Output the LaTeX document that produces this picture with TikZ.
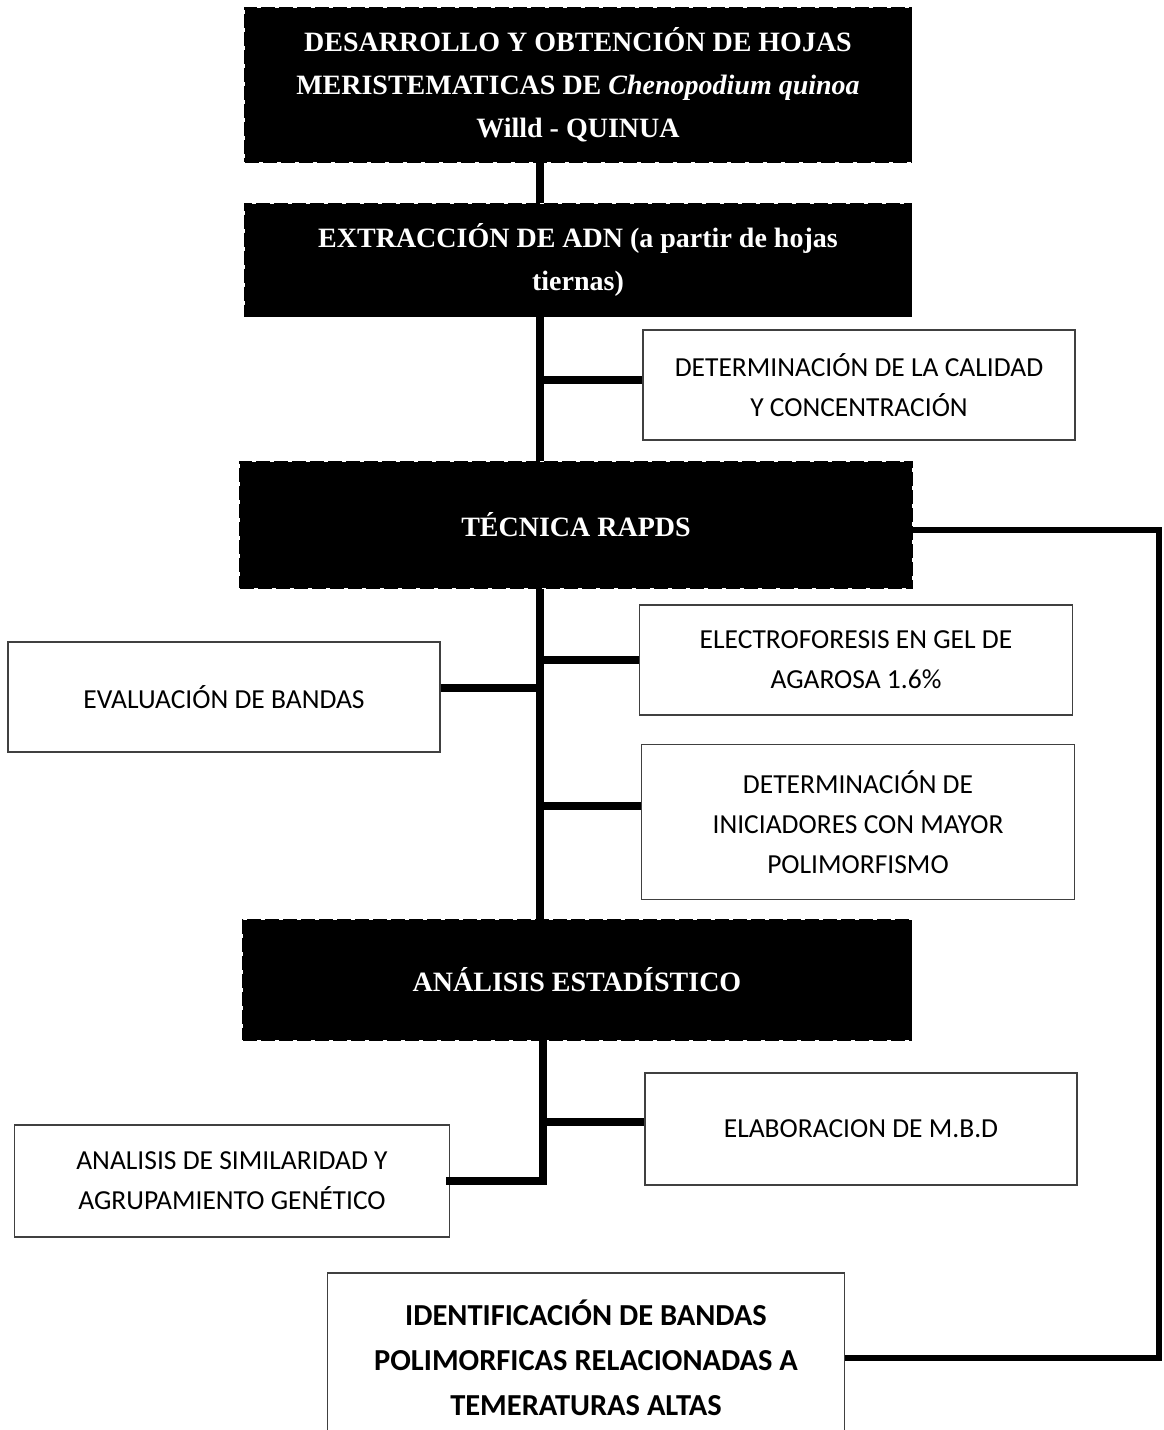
\documentclass[tikz,border=0pt]{standalone}
\usepackage{fontspec}
\setmainfont{Liberation Serif}
\newfontfamily\calibri{Carlito}
\usetikzlibrary{positioning, calc}

\tikzset{
  blackbox/.style={fill=black, draw=black, line width=1.5pt, dash pattern=on 14pt off 4pt,
    text=white, align=center, inner sep=0pt, font=\fontsize{28}{43}\selectfont\bfseries},
  whitebox/.style={fill=white, draw=black!75, line width=1.2pt, align=center, inner sep=0pt,
    font=\calibri\fontsize{27.5}{40}\selectfont},
  link/.style={line width=7.5pt, line cap=rect}
}

\begin{document}
\begin{tikzpicture}[x=1pt, y=-1pt]
        \useasboundingbox (0,0) rectangle (1164,1430);

        \node[blackbox, minimum width=667, minimum height=154] (desarrollo) at (578,85)
          {DESARROLLO Y OBTENCIÓN DE HOJAS\\MERISTEMATICAS DE \textit{Chenopodium quinoa}\\Willd - QUINUA};
        \node[blackbox, minimum width=667, minimum height=113] (extraccion) at (578,260)
          {EXTRACCIÓN DE ADN (a partir de hojas\\tiernas)};
        \node[whitebox, minimum width=432, minimum height=110] (calidad) at (859,385)
          {DETERMINACIÓN DE LA CALIDAD\\Y CONCENTRACIÓN};
        \node[blackbox, minimum width=672, minimum height=126] (rapds) at (576,525)
          {TÉCNICA RAPDS};
        \node[whitebox, minimum width=433, minimum height=110] (electro) at (856,660)
          {ELECTROFORESIS EN GEL DE\\AGAROSA 1.6\%};
        \node[whitebox, minimum width=432, minimum height=110] (evaluacion) at (224,697)
          {EVALUACIÓN DE BANDAS};
        \node[whitebox, minimum width=433, minimum height=155] (iniciadores) at (858,822)
          {DETERMINACIÓN DE\\INICIADORES CON MAYOR\\POLIMORFISMO};
        \node[blackbox, minimum width=669, minimum height=120] (estadistico) at (577,980)
          {ANÁLISIS ESTADÍSTICO};
        \node[whitebox, minimum width=432, minimum height=112] (mbd) at (861,1129)
          {ELABORACION DE M.B.D};
        \node[whitebox, minimum width=435, minimum height=112] (similaridad) at (232,1181)
          {ANALISIS DE SIMILARIDAD Y\\AGRUPAMIENTO GENÉTICO};
        \node[whitebox, minimum width=517, minimum height=170, text depth=0pt,
          font=\calibri\fontsize{30.5}{45}\selectfont\bfseries] (identificacion) at (586,1358)
          {IDENTIFICACIÓN DE BANDAS\\POLIMORFICAS RELACIONADAS A\\TEMERATURAS ALTAS};

        \coordinate (trunk) at (540,0);
        \coordinate (trunkb) at (543,0);
        \coordinate (edge) at (1159,0);

        \draw[link, line cap=butt] (desarrollo.south -| trunk) -- (extraccion.north -| trunk);
        \draw[link, line cap=butt] (extraccion.south -| trunk) -- (rapds.north -| trunk);
        \draw[link, line cap=butt] ([yshift=5pt]calidad.west) -- ([yshift=5pt]calidad.west -| trunk);

        \draw[link, line cap=butt] (rapds.south -| trunk) -- (estadistico.north -| trunk);
        \draw[link, line cap=butt] (electro.west) -- (electro.west -| trunk);
        \draw[link, line cap=butt] ([yshift=9pt]evaluacion.east) -- ([yshift=9pt]evaluacion.east -| trunk);
        \draw[link, line cap=butt] ([yshift=16pt]iniciadores.west) -- ([yshift=16pt]iniciadores.west -| trunk);

        \draw[link] (estadistico.south -| trunkb) -- (similaridad.east -| trunkb) -- (similaridad.east);
        \draw[link, line cap=butt] ([yshift=7pt]mbd.west) -- ([yshift=7pt]mbd.west -| trunkb);

        \draw[line width=6pt] ([yshift=-5pt]rapds.east) -| (identificacion.east -| edge) -- (identificacion.east);
\end{tikzpicture}
\end{document}
